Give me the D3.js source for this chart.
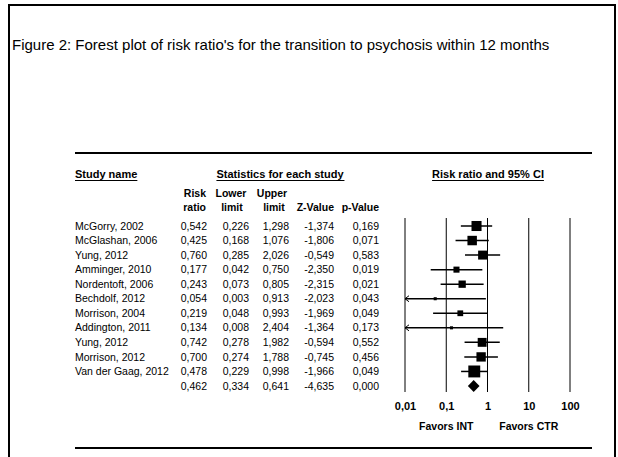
<!DOCTYPE html>
<html><head><meta charset="utf-8">
<script src="https://cdn.jsdelivr.net/npm/d3@7"></script>
<style>body{margin:0;background:#fff}svg{display:block}text{font-family:Arial,"Liberation Sans",sans-serif;fill:#000}</style>
</head><body>
<script>
const studies = ["McGorry, 2002","McGlashan, 2006","Yung, 2012","Amminger, 2010","Nordentoft, 2006","Bechdolf, 2012","Morrison, 2004","Addington, 2011","Yung, 2012","Morrison, 2012","Van der Gaag, 2012",""];
const riskRatio = [0.542,0.425,0.760,0.177,0.243,0.054,0.219,0.134,0.742,0.700,0.478,0.462];
const lowerLimit = [0.226,0.168,0.285,0.042,0.073,0.003,0.048,0.008,0.278,0.274,0.229,0.334];
const upperLimit = [1.298,1.076,2.026,0.750,0.805,0.913,0.993,2.404,1.982,1.788,0.998,0.641];
const zValue = [-1.374,-1.806,-0.549,-2.350,-2.315,-2.023,-1.969,-1.364,-0.594,-0.745,-1.966,-4.635];
const pValue = [0.169,0.071,0.583,0.019,0.021,0.043,0.049,0.173,0.552,0.456,0.049,0.000];
const weights = [14.0,12.4,11.1,5.1,7.4,1.3,4.6,1.3,11.0,12.1,19.7];
const axisTicks = [0.01,0.1,1,10,100];
const tickLabels = ["0,01","0,1","1","10","100"];
const title = "Figure 2: Forest plot of risk ratio's for the transition to psychosis within 12 months";

const W=618,H=457;
const svg=d3.select("body").append("svg").attr("width",W).attr("height",H);
svg.append("rect").attr("width",W).attr("height",H).attr("fill","#fff");
// outer frame (open at the bottom)
svg.append("path").attr("d","M9,457V5H615V457").attr("fill","none").attr("stroke","#000").attr("stroke-width",2);
svg.append("text").attr("x",12).attr("y",50).attr("font-size",15).text(title);

// table rules
svg.append("line").attr("x1",75).attr("x2",592).attr("y1",153).attr("y2",153).attr("stroke","#000").attr("stroke-width",2);
svg.append("line").attr("x1",75).attr("x2",592).attr("y1",448).attr("y2",448).attr("stroke","#000").attr("stroke-width",2);

const fmt = v => d3.format(".3f")(v).replace(".",",").replace("−","-");
const y = d3.scalePoint().domain(d3.range(studies.length)).range([226,386]);
const x = d3.scaleLog().domain([0.01,100]).range([405,570]);

function underlined(txt,xx,yy,anchor){
  const t=svg.append("text").attr("x",xx).attr("y",yy).attr("font-size",11).attr("font-weight","bold").attr("text-anchor",anchor).text(txt);
  const b=t.node().getBBox();
  svg.append("line").attr("x1",b.x).attr("x2",b.x+b.width).attr("y1",yy+2.5).attr("y2",yy+2.5).attr("stroke","#000").attr("stroke-width",1);
}
underlined("Study name",75,178,"start");
underlined("Statistics for each study",280,178,"middle");
underlined("Risk ratio and 95% CI",488,178,"middle");

const hdr=[["Risk",206,197,"end"],["ratio",206,211,"end"],["Lower",231,197,"middle"],["limit",232,211,"middle"],
  ["Upper",272,197,"middle"],["limit",274,211,"middle"],["Z-Value",334,211,"end"],["p-Value",379,211,"end"]];
svg.selectAll("text.hdr").data(hdr).join("text").attr("class","hdr").attr("x",d=>d[1]).attr("y",d=>d[2])
  .attr("text-anchor",d=>d[3]).attr("font-size",10.5).attr("font-weight","bold").text(d=>d[0]);

const cols=[[riskRatio,207],[lowerLimit,249],[upperLimit,289],[zValue,334],[pValue,379]];
const rows=svg.append("g");
studies.forEach((s,i)=>{
  rows.append("text").attr("x",75).attr("y",y(i)).attr("dy","0.35em").attr("font-size",10.5).text(s);
  cols.forEach(([arr,cx])=>{
    rows.append("text").attr("x",cx).attr("y",y(i)).attr("dy","0.35em").attr("font-size",10.5).attr("text-anchor","end").text(fmt(arr[i]));
  });
});

// reference lines
svg.selectAll("line.ref").data(axisTicks).join("line").attr("class","ref")
  .attr("x1",d=>x(d)).attr("x2",d=>x(d)).attr("y1",218).attr("y2",392).attr("stroke","#000").attr("stroke-width",1);

// axis labels
const ax=svg.append("g").attr("transform","translate(0,399)")
  .call(d3.axisBottom(x).tickValues(axisTicks).tickFormat((d,i)=>tickLabels[i]).tickSize(0));
ax.select(".domain").remove();
ax.selectAll("text").attr("font-size",11).attr("font-weight","bold").attr("font-family","Arial,'Liberation Sans',sans-serif");
svg.append("text").attr("x",x(0.1)).attr("y",430).attr("text-anchor","middle").attr("font-size",10.5).attr("font-weight","bold").text("Favors INT");
svg.append("text").attr("x",x(10)).attr("y",430).attr("text-anchor","middle").attr("font-size",10.5).attr("font-weight","bold").text("Favors CTR");

const size=d3.scaleSqrt().domain([0,20]).range([0,12]);
const dom=x.domain();
const g=svg.append("g");
weights.forEach((w,i)=>{
  const lo=Math.max(lowerLimit[i],dom[0]), hi=Math.min(upperLimit[i],dom[1]);
  const yy=y(i);
  g.append("line").attr("x1",x(lo)).attr("x2",x(hi)).attr("y1",yy).attr("y2",yy).attr("stroke","#000").attr("stroke-width",1.5);
  if(lowerLimit[i]<dom[0]){
    g.append("path").attr("d",`M${x(lo)+4},${yy-3}L${x(lo)},${yy}L${x(lo)+4},${yy+3}`).attr("fill","none").attr("stroke","#000").attr("stroke-width",1);
  }
  const s=size(w);
  g.append("rect").attr("x",x(riskRatio[i])-s/2).attr("y",yy-s/2).attr("width",s).attr("height",s).attr("fill","#000");
});
const si=studies.length-1, sy=y(si);
g.append("path").attr("d",`M${x(lowerLimit[si])},${sy}L${x(riskRatio[si])},${sy-6}L${x(upperLimit[si])},${sy}L${x(riskRatio[si])},${sy+6}Z`).attr("fill","#000");
</script>
</body></html>
